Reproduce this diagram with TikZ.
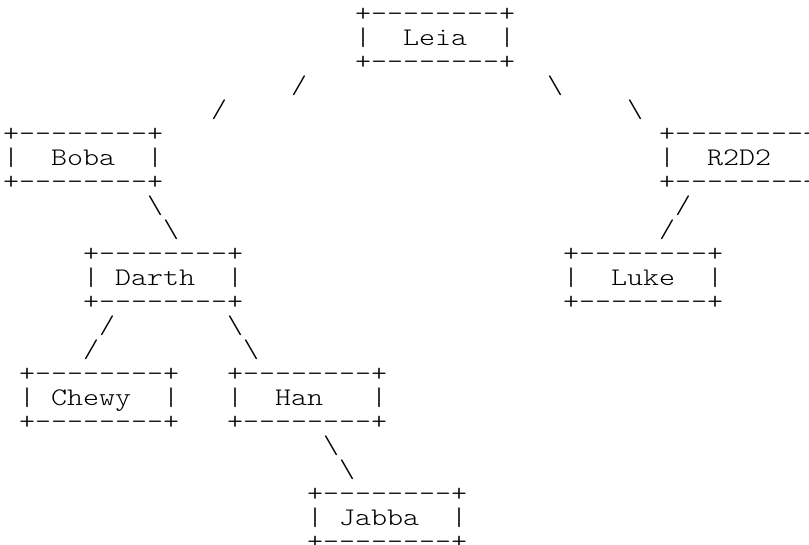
\documentclass[tikz,border=0pt]{standalone}
\usepackage{fontspec}
\setmonofont{Latin Modern Mono Light}[FakeStretch=1.203]
\tikzset{txt/.style={inner sep=0pt, outer sep=0pt, anchor=base west, text=black,
  font=\ttfamily\fontsize{19}{18}\selectfont}}
\newcommand\ch[4]{\node[txt] (#1) at ({2.25pt+12pt*(#2)},{-15.75pt-18pt*(#3)}) {#4};}
\newcommand\asciibox[5]{%
  \ch{#1-top}{#2}{#3}{+--------+}%
  \ch{#1-l}{#2}{#3+1}{|}%
  \ch{#1}{#4}{#3+1}{#5}%
  \ch{#1-r}{#2+9}{#3+1}{|}%
  \ch{#1-bot}{#2}{#3+2}{+--------+}}
\begin{document}
\begin{tikzpicture}
\fill[white] (0,0) rectangle (606.75pt,-408pt);
\clip (0,0) rectangle (606.75pt,-408pt);
\asciibox{leia}{22}{0}{25}{Leia}
\asciibox{boba}{0}{5}{3}{Boba}
\asciibox{r2d2}{41}{5}{44}{R2D2}
\asciibox{darth}{5}{10}{7}{Darth}
\asciibox{luke}{35}{10}{38}{Luke}
\asciibox{chewy}{1}{15}{3}{Chewy}
\asciibox{han}{14}{15}{17}{Han}
\asciibox{jabba}{19}{20}{21}{Jabba}
% connectors drawn as characters
\ch{lb1}{18}{3}{/}
\ch{lb2}{13}{4}{/}
\ch{lr1}{34}{3}{\textbackslash}
\ch{lr2}{39}{4}{\textbackslash}
\ch{bd1}{9}{8}{\textbackslash}
\ch{bd2}{10}{9}{\textbackslash}
\ch{rl1}{42}{8}{/}
\ch{rl2}{41}{9}{/}
\ch{dc1}{6}{13}{/}
\ch{dc2}{5}{14}{/}
\ch{dh1}{14}{13}{\textbackslash}
\ch{dh2}{15}{14}{\textbackslash}
\ch{hj1}{20}{18}{\textbackslash}
\ch{hj2}{21}{19}{\textbackslash}
\end{tikzpicture}
\end{document}
